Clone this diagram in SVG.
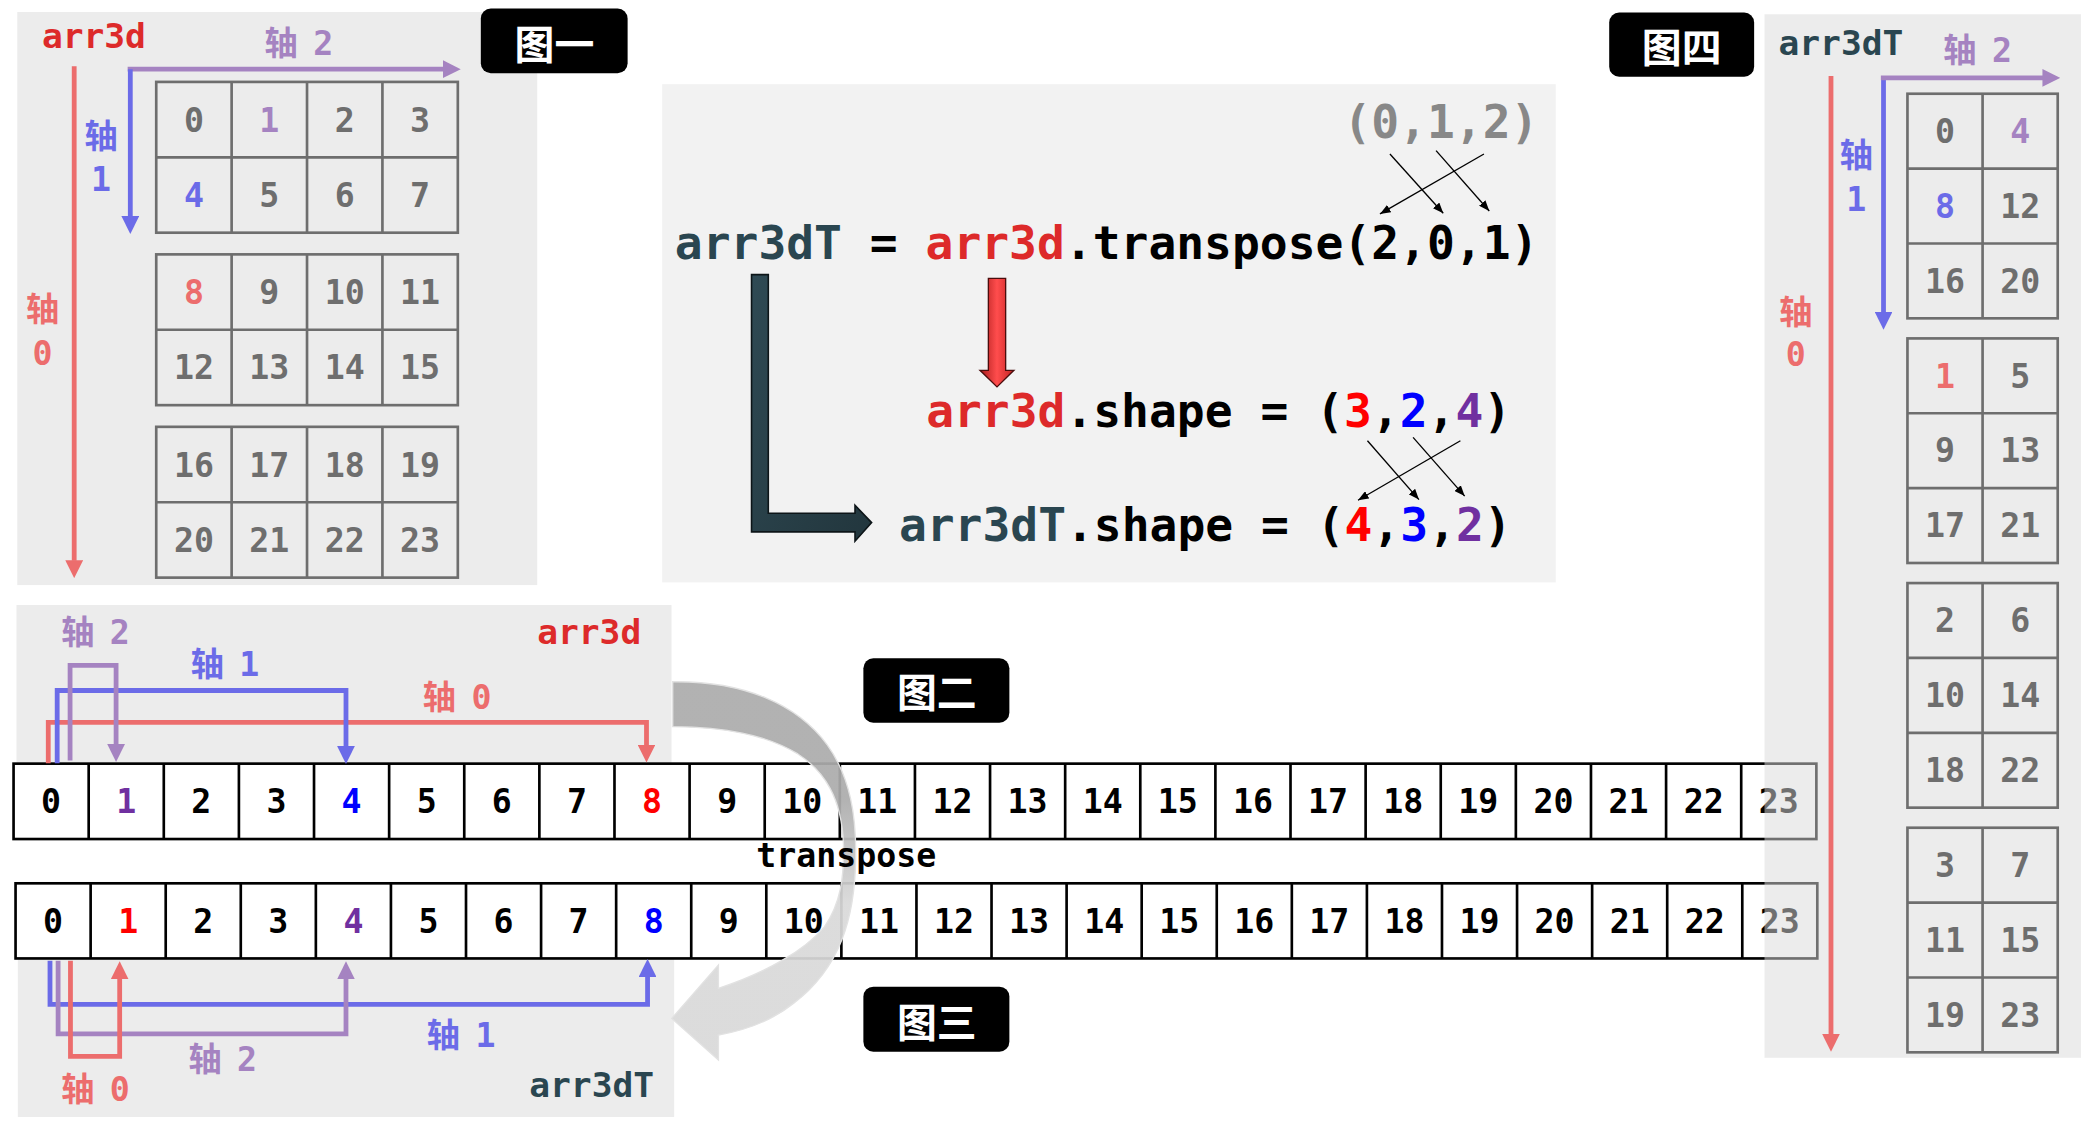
<svg xmlns="http://www.w3.org/2000/svg" width="2085" height="1129" viewBox="0 0 2085 1129">
<style>
.mono{font-family:"DejaVu Sans Mono","Noto Sans CJK SC",monospace;font-weight:bold}
.cjk{font-family:"Noto Sans CJK SC","DejaVu Sans",sans-serif;font-weight:bold}
.panel{fill:#ececec}
.grid{fill:none;stroke:#6e6e6e;stroke-width:2}
.gd{font-size:25px;fill:#6e6e6e;text-anchor:middle}
.arr{fill:#fff;stroke:#000;stroke-width:2}
.arrl{fill:none;stroke:#000;stroke-width:2}
.ad{font-size:25px;fill:#000;text-anchor:middle}
.ax{font-size:25px;word-spacing:-3.5px}
.axm{font-size:25px;text-anchor:middle}
.code{font-size:34.8px;fill:#000}
.gray{fill:#888888}
.tag{fill:#000}
.tagt{font-size:30px;fill:#fff;text-anchor:middle}
.br{fill:none;stroke-width:3.6}
.cr{fill:#ec6d6d}.cb{fill:#6b6be8}.cp{fill:#a583c1}
.sr{stroke:#ec6d6d}.sb{stroke:#6b6be8}.sp{stroke:#a583c1}
.red{fill:#dd2a2a}.teal{fill:#2a4650}
.xl{stroke:#000;stroke-width:1;fill:none}
</style>
<defs>
<marker id="mr" viewBox="0 0 13.5 13.4" refX="0.5" refY="6.7" markerWidth="13.5" markerHeight="13.4" orient="auto" markerUnits="userSpaceOnUse"><path d="M0,0L13.5,6.7L0,13.4Z" fill="#ec6d6d"/></marker>
<marker id="mb" viewBox="0 0 13.5 13.4" refX="0.5" refY="6.7" markerWidth="13.5" markerHeight="13.4" orient="auto" markerUnits="userSpaceOnUse"><path d="M0,0L13.5,6.7L0,13.4Z" fill="#6b6be8"/></marker>
<marker id="mp" viewBox="0 0 13.5 13.4" refX="0.5" refY="6.7" markerWidth="13.5" markerHeight="13.4" orient="auto" markerUnits="userSpaceOnUse"><path d="M0,0L13.5,6.7L0,13.4Z" fill="#a583c1"/></marker>
<marker id="mk" viewBox="0 0 10 8" refX="10" refY="4" markerWidth="8" markerHeight="6.4" orient="auto" markerUnits="userSpaceOnUse"><path d="M0,0L10,4L0,8Z" fill="#000"/></marker>
<linearGradient id="gcurve" gradientUnits="userSpaceOnUse" x1="0" y1="600" x2="0" y2="680"><stop offset="0" stop-color="#acacac"/><stop offset="1" stop-color="#d9d9d9"/></linearGradient>
<linearGradient id="gred" x1="0" y1="0" x2="1" y2="0"><stop offset="0" stop-color="#a81a1a"/><stop offset="0.5" stop-color="#ff4d4d"/><stop offset="1" stop-color="#c42222"/></linearGradient>
<linearGradient id="gdark" x1="0" y1="0" x2="1" y2="1"><stop offset="0" stop-color="#2f4a54"/><stop offset="1" stop-color="#22363d"/></linearGradient>
</defs>
<rect width="2085" height="1129" fill="#fff"/>
<g transform="scale(1.3297)">

<g id="fig1">
<rect class="panel" x="13" y="9" width="391" height="431"/>
<text class="mono red" x="31.5" y="36.2" font-size="26">arr3d</text>
<text class="mono ax cp" x="199" y="41.5">轴 2</text>
<text class="mono axm cb" x="76" y="111.5">轴</text>
<text class="mono axm cb" x="76" y="144">1</text>
<text class="mono axm cr" x="32" y="241.5">轴</text>
<text class="mono axm cr" x="32" y="274.2">0</text>
<g class="grid">
<rect x="117.5" y="61.6" width="226.8" height="113.4"/><path d="M174.2,61.6V175M230.9,61.6V175M287.6,61.6V175M117.5,118.3H344.3"/>
<rect x="117.5" y="191.3" width="226.8" height="113.4"/><path d="M174.2,191.3V304.7M230.9,191.3V304.7M287.6,191.3V304.7M117.5,248H344.3"/>
<rect x="117.5" y="321" width="226.8" height="113.4"/><path d="M174.2,321V434.4M230.9,321V434.4M287.6,321V434.4M117.5,377.7H344.3"/>
</g>
<g class="mono gd">
<text x="145.85" y="99">0</text><text x="202.55" y="99" fill="#a583c1">1</text><text x="259.25" y="99">2</text><text x="315.95" y="99">3</text>
<text x="145.85" y="155.7" fill="#6b6be8">4</text><text x="202.55" y="155.7">5</text><text x="259.25" y="155.7">6</text><text x="315.95" y="155.7">7</text>
<text x="145.85" y="228.7" fill="#ec6d6d">8</text><text x="202.55" y="228.7">9</text><text x="259.25" y="228.7">10</text><text x="315.95" y="228.7">11</text>
<text x="145.85" y="285.4">12</text><text x="202.55" y="285.4">13</text><text x="259.25" y="285.4">14</text><text x="315.95" y="285.4">15</text>
<text x="145.85" y="358.4">16</text><text x="202.55" y="358.4">17</text><text x="259.25" y="358.4">18</text><text x="315.95" y="358.4">19</text>
<text x="145.85" y="415.1">20</text><text x="202.55" y="415.1">21</text><text x="259.25" y="415.1">22</text><text x="315.95" y="415.1">23</text>
</g>
</g>

<g id="code">
<rect x="498" y="63.3" width="672" height="374.7" fill="#f2f2f2"/>
<text class="mono code gray" x="1010.3" y="104">(0,1,2)</text>
<text class="mono code" x="507.5" y="194.5" xml:space="preserve"><tspan class="teal">arr3dT</tspan> = <tspan class="red">arr3d</tspan>.transpose(2,0,1)</text>
<text class="mono code" x="696.5" y="321" xml:space="preserve"><tspan class="red">arr3d</tspan>.shape = (<tspan fill="#ff0000">3</tspan>,<tspan fill="#0000ff">2</tspan>,<tspan fill="#7030a0">4</tspan>)</text>
<text class="mono code" x="676" y="406.5" xml:space="preserve"><tspan class="teal">arr3dT</tspan>.shape = (<tspan fill="#ff0000">4</tspan>,<tspan fill="#0000ff">3</tspan>,<tspan fill="#7030a0">2</tspan>)</text>
</g>

<g id="fig2">
<rect class="panel" x="12.4" y="455" width="492.6" height="119.3"/>
<text class="mono ax cp" x="46" y="484.5">轴 2</text>
<text class="mono ax cb" x="143.4" y="508.5">轴 1</text>
<text class="mono ax cr" x="318" y="533.5">轴 0</text>
<text class="mono red" x="404" y="484" font-size="26">arr3d</text>
</g>

<g id="fig3">
<rect class="panel" x="13.4" y="720.8" width="493.6" height="119.2"/>
<text class="mono ax cb" x="321" y="787.5">轴 1</text>
<text class="mono ax cp" x="141.7" y="805.5">轴 2</text>
<text class="mono ax cr" x="46" y="828">轴 0</text>
<text class="mono teal" x="398" y="824.7" font-size="26">arr3dT</text>
</g>

<g id="array-top">
<rect class="arr" x="10.2" y="574.3" width="1355.8" height="56.7"/>
<path class="arrl" d="M66.69,574.3V631M123.18,574.3V631M179.67,574.3V631M236.16,574.3V631M292.65,574.3V631M349.14,574.3V631M405.63,574.3V631M462.12,574.3V631M518.61,574.3V631M575.1,574.3V631M631.59,574.3V631M688.08,574.3V631M744.57,574.3V631M801.06,574.3V631M857.55,574.3V631M914.04,574.3V631M970.53,574.3V631M1027.02,574.3V631M1083.51,574.3V631M1140,574.3V631M1196.49,574.3V631M1252.98,574.3V631M1309.47,574.3V631"/>
<g class="mono ad">
<text x="38.45" y="611.5">0</text><text x="94.94" y="611.5" fill="#7030a0">1</text><text x="151.43" y="611.5">2</text><text x="207.92" y="611.5">3</text><text x="264.41" y="611.5" fill="#0000ff">4</text><text x="320.9" y="611.5">5</text><text x="377.39" y="611.5">6</text><text x="433.88" y="611.5">7</text><text x="490.37" y="611.5" fill="#ff0000">8</text><text x="546.86" y="611.5">9</text><text x="603.35" y="611.5">10</text><text x="659.84" y="611.5">11</text><text x="716.33" y="611.5">12</text><text x="772.82" y="611.5">13</text><text x="829.31" y="611.5">14</text><text x="885.8" y="611.5">15</text><text x="942.29" y="611.5">16</text><text x="998.78" y="611.5">17</text><text x="1055.27" y="611.5">18</text><text x="1111.76" y="611.5">19</text><text x="1168.25" y="611.5">20</text><text x="1224.74" y="611.5">21</text><text x="1281.23" y="611.5">22</text><text x="1337.72" y="611.5">23</text>
</g>
</g>

<g id="array-bottom">
<rect class="arr" x="11.7" y="664.3" width="1355" height="56.5"/>
<path class="arrl" d="M68.16,664.3V720.8M124.62,664.3V720.8M181.08,664.3V720.8M237.54,664.3V720.8M294,664.3V720.8M350.46,664.3V720.8M406.92,664.3V720.8M463.38,664.3V720.8M519.84,664.3V720.8M576.3,664.3V720.8M632.76,664.3V720.8M689.22,664.3V720.8M745.68,664.3V720.8M802.14,664.3V720.8M858.6,664.3V720.8M915.06,664.3V720.8M971.52,664.3V720.8M1027.98,664.3V720.8M1084.44,664.3V720.8M1140.9,664.3V720.8M1197.36,664.3V720.8M1253.82,664.3V720.8M1310.28,664.3V720.8"/>
<g class="mono ad">
<text x="39.93" y="701.8">0</text><text x="96.39" y="701.8" fill="#ff0000">1</text><text x="152.85" y="701.8">2</text><text x="209.31" y="701.8">3</text><text x="265.77" y="701.8" fill="#7030a0">4</text><text x="322.23" y="701.8">5</text><text x="378.69" y="701.8">6</text><text x="435.15" y="701.8">7</text><text x="491.61" y="701.8" fill="#0000ff">8</text><text x="548.07" y="701.8">9</text><text x="604.53" y="701.8">10</text><text x="660.99" y="701.8">11</text><text x="717.45" y="701.8">12</text><text x="773.91" y="701.8">13</text><text x="830.37" y="701.8">14</text><text x="886.83" y="701.8">15</text><text x="943.29" y="701.8">16</text><text x="999.75" y="701.8">17</text><text x="1056.21" y="701.8">18</text><text x="1112.67" y="701.8">19</text><text x="1169.13" y="701.8">20</text><text x="1225.59" y="701.8">21</text><text x="1282.05" y="701.8">22</text><text x="1338.51" y="701.8">23</text>
</g>
</g>

<g id="connectors">
<path class="br sr" d="M55.8,49.8V421.8" marker-end="url(#mr)"/>
<path class="br sp" d="M96,52H333.5" marker-end="url(#mp)"/>
<path class="br sb" d="M98,52V163" marker-end="url(#mb)"/>
<path class="br sr" d="M36.3,574V543.3H486.2V560.5" marker-end="url(#mr)"/>
<path class="br sb" d="M43,574V519.3H260.2V561.5" marker-end="url(#mb)"/>
<path class="br sp" d="M52.7,572V500.4H87.3V560" marker-end="url(#mp)"/>
<path class="br sb" d="M37.6,722.5V755.3H487V734.2" marker-end="url(#mb)"/>
<path class="br sp" d="M43.7,722.5V777.5H260.2V736" marker-end="url(#mp)"/>
<path class="br sr" d="M53,722.5V794.4H90V736" marker-end="url(#mr)"/>
<path class="xl" d="M1045.3,115.8L1085.4,160.4" marker-end="url(#mk)"/>
<path class="xl" d="M1080,113.3L1120,158.7" marker-end="url(#mk)"/>
<path class="xl" d="M1116,115.8L1037.8,160.9" marker-end="url(#mk)"/>
<path class="xl" d="M1028.4,331.5L1067.1,375.7" marker-end="url(#mk)"/>
<path class="xl" d="M1062.7,328.9L1101.5,373.1" marker-end="url(#mk)"/>
<path class="xl" d="M1098.3,331.5L1021.3,376.2" marker-end="url(#mk)"/>
<path d="M565.2,206.5H577.8V386H643V380L655.5,393L643,407V400H565.2Z" fill="url(#gdark)" stroke="#0d1518" stroke-width="1.2"/>
<path d="M743.3,209.3H756.3V278.5H762.5L749.8,291L737,278.5H743.3Z" fill="url(#gred)" stroke="#4a0d0d" stroke-width="1"/>
<path d="M505.9,512.7C560,512 600,530 622,560C640,585 644,615 643.5,645C643,690 632,728 596.7,754.6C580,768 560,775 540.3,778.4L540.3,797.2L505.2,765.9L540.3,725.8L540.3,743.3C575,732 605,715 620,697C632,680 635,660 634.3,634.3C633,600 620,580 600,567C575,552 545,547 505.9,546.5Z" fill="url(#gcurve)" fill-opacity="0.93" stroke="#e2e2e2" stroke-width="1"/>
</g>

<text id="transpose-label" class="mono" x="636.5" y="651.8" font-size="25" text-anchor="middle">transpose</text>

<g id="fig4">
<rect x="1327" y="10.7" width="238" height="784.8" fill="#dadada" fill-opacity="0.515"/>
<text class="mono teal" x="1337.5" y="41.6" font-size="26">arr3dT</text>
<text class="mono ax cp" x="1461.5" y="46.5">轴 2</text>
<text class="mono axm cb" x="1396" y="125.8">轴</text>
<text class="mono axm cb" x="1396" y="158.5">1</text>
<text class="mono axm cr" x="1350.5" y="244">轴</text>
<text class="mono axm cr" x="1350.5" y="275.3">0</text>
<path class="br sr" d="M1377,57.2V778" marker-end="url(#mr)"/>
<path class="br sb" d="M1416.5,57.2V235" marker-end="url(#mb)"/>
<path class="br sp" d="M1414.5,58.6H1536.5" marker-end="url(#mp)"/>
<g class="grid">
<rect x="1434.5" y="70.5" width="113" height="168.9"/><path d="M1491,70.5V239.4M1434.5,126.8H1547.5M1434.5,183.1H1547.5"/>
<rect x="1434.5" y="254.5" width="113" height="168.9"/><path d="M1491,254.5V423.4M1434.5,310.8H1547.5M1434.5,367.1H1547.5"/>
<rect x="1434.5" y="438.5" width="113" height="168.9"/><path d="M1491,438.5V607.4M1434.5,494.8H1547.5M1434.5,551.1H1547.5"/>
<rect x="1434.5" y="622.5" width="113" height="168.9"/><path d="M1491,622.5V791.4M1434.5,678.8H1547.5M1434.5,735.1H1547.5"/>
</g>
<g class="mono gd">
<text x="1462.75" y="107.5">0</text><text x="1519.25" y="107.5" fill="#a583c1">4</text>
<text x="1462.75" y="163.8" fill="#6b6be8">8</text><text x="1519.25" y="163.8">12</text>
<text x="1462.75" y="220.1">16</text><text x="1519.25" y="220.1">20</text>
<text x="1462.75" y="291.5" fill="#ec6d6d">1</text><text x="1519.25" y="291.5">5</text>
<text x="1462.75" y="347.8">9</text><text x="1519.25" y="347.8">13</text>
<text x="1462.75" y="404.1">17</text><text x="1519.25" y="404.1">21</text>
<text x="1462.75" y="475.5">2</text><text x="1519.25" y="475.5">6</text>
<text x="1462.75" y="531.8">10</text><text x="1519.25" y="531.8">14</text>
<text x="1462.75" y="588.1">18</text><text x="1519.25" y="588.1">22</text>
<text x="1462.75" y="659.5">3</text><text x="1519.25" y="659.5">7</text>
<text x="1462.75" y="715.8">11</text><text x="1519.25" y="715.8">15</text>
<text x="1462.75" y="772.1">19</text><text x="1519.25" y="772.1">23</text>
</g>
</g>

<g id="tag1"><rect class="tag" x="361.6" y="6.4" width="110.4" height="48.6" rx="7.5"/><text class="cjk tagt" x="417" y="44">图一</text></g>
<g id="tag2"><rect class="tag" x="649.3" y="495.1" width="109.8" height="48.4" rx="7.5"/><text class="cjk tagt" x="704.5" y="532">图二</text></g>
<g id="tag3"><rect class="tag" x="649.3" y="742" width="109.8" height="49" rx="7.5"/><text class="cjk tagt" x="704.5" y="779.5">图三</text></g>
<g id="tag4"><rect class="tag" x="1210.2" y="9.4" width="109" height="48.3" rx="7.5"/><text class="cjk tagt" x="1264.7" y="46.5">图四</text></g>
</g>
</svg>
